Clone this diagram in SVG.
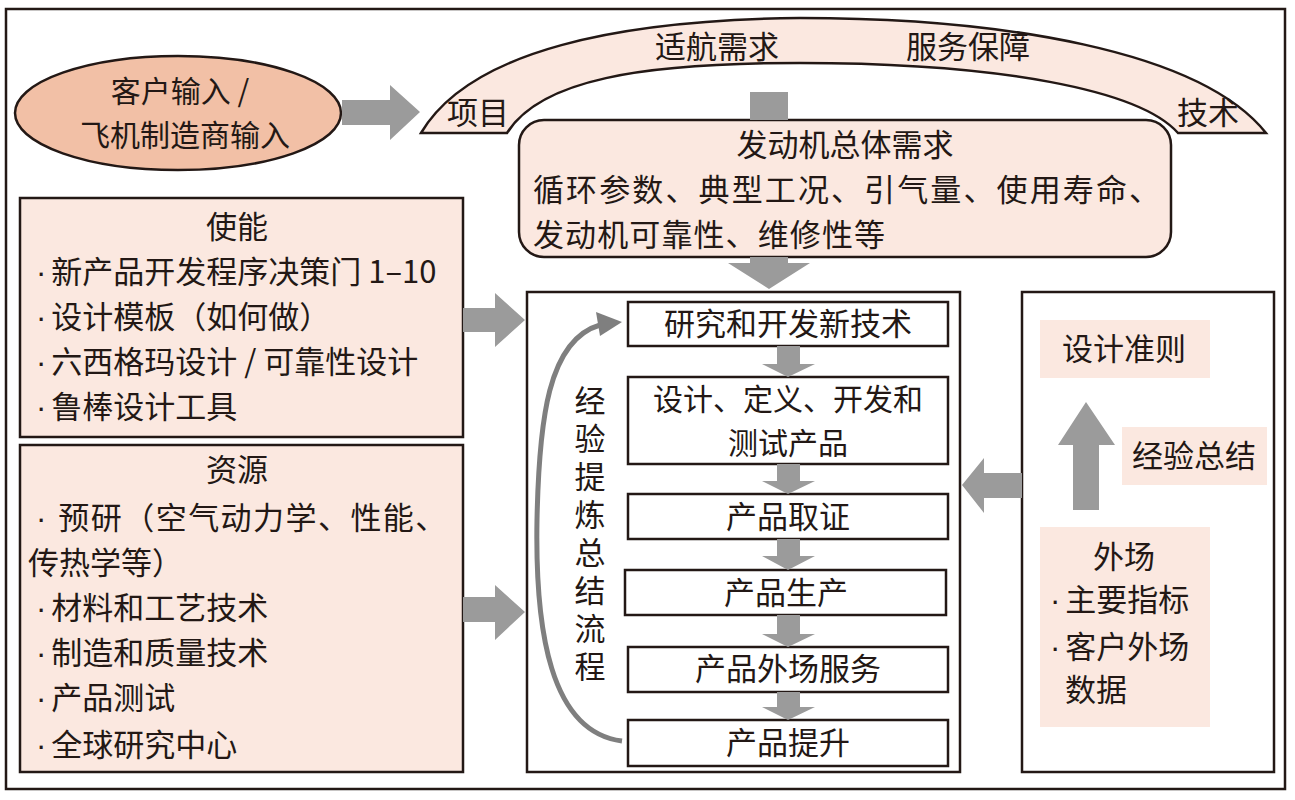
<svg xmlns="http://www.w3.org/2000/svg" width="1295" height="800" viewBox="0 0 1295 800">
<style>
text{font-family:"Noto Sans CJK SC","Noto Sans",sans-serif;font-size:31px;fill:#231815;}
.c{text-anchor:middle;}
.s{font-size:30px;}
.d{font-family:"Liberation Sans",sans-serif;}
.v{writing-mode:vertical-rl;letter-spacing:7px;}
.pink{fill:#fbe8e0;stroke:#231815;stroke-width:2.5;}
.pk{fill:#fbe8e0;}
.box{fill:#fff;stroke:#231815;stroke-width:2.5;}
.ga{fill:#9b9b9b;}
</style>
<rect x="0" y="0" width="1295" height="800" fill="#fff"/>
<rect x="6" y="9" width="1279" height="780" fill="none" stroke="#231815" stroke-width="2.5"/>

<g id="customer">
<ellipse cx="178" cy="113" rx="163" ry="57" fill="#f2c0a6" stroke="#231815" stroke-width="2.5"/>
<text class="c s"><tspan x="180" y="102">客户输入 /</tspan><tspan x="185" y="146">飞机制造商输入</tspan></text>
</g>

<g id="arc">
<path class="pink" d="M421,133 C470,50 620,20 800,18 C1000,18 1200,50 1266,133 L1178,133 C1140,90 1000,63 800,63 C640,63 540,80 507,133 Z"/>
<text class="c" x="717" y="58">适航需求</text>
<text class="c" x="968" y="58">服务保障</text>
<text class="c" x="478" y="124">项目</text>
<text class="c" x="1208" y="124">技术</text>
</g>

<g id="requirements">
<rect class="pink" x="519" y="120" width="652" height="137" rx="25"/>
<text class="c" x="845" y="156">发动机总体需求</text>
<text x="533" y="201" textLength="627" lengthAdjust="spacing">循环参数、典型工况、引气量、使用寿命、</text>
<text x="533" y="246" textLength="352" lengthAdjust="spacing">发动机可靠性、维修性等</text>
</g>

<g id="enable">
<rect class="pink" x="20" y="198" width="443" height="239"/>
<text class="c" x="237" y="238">使能</text>
<text x="36" y="283"><tspan class="d">·</tspan><tspan dx="5">新产品开发程序决策门 1–10</tspan></text>
<text x="36" y="328"><tspan class="d">·</tspan><tspan dx="5">设计模板（如何做）</tspan></text>
<text x="36" y="373"><tspan class="d">·</tspan><tspan dx="5">六西格玛设计 / 可靠性设计</tspan></text>
<text x="36" y="418"><tspan class="d">·</tspan><tspan dx="5">鲁棒设计工具</tspan></text>
</g>

<g id="resources">
<rect class="pink" x="20" y="445" width="443" height="327"/>
<text class="c" x="237" y="481">资源</text>
<text x="36" y="529"><tspan class="d">·</tspan><tspan dx="12" textLength="388" lengthAdjust="spacing">预研（空气动力学、性能、</tspan></text>
<text x="28" y="574">传热学等）</text>
<text x="36" y="619"><tspan class="d">·</tspan><tspan dx="5">材料和工艺技术</tspan></text>
<text x="36" y="664"><tspan class="d">·</tspan><tspan dx="5">制造和质量技术</tspan></text>
<text x="36" y="709"><tspan class="d">·</tspan><tspan dx="5">产品测试</tspan></text>
<text x="36" y="756"><tspan class="d">·</tspan><tspan dx="5">全球研究中心</tspan></text>
</g>

<g id="process">
<rect class="box" x="527" y="292" width="433" height="480"/>
<rect class="box" x="628" y="302" width="320" height="44"/>
<text class="c" x="788" y="335">研究和开发新技术</text>
<rect class="box" x="628" y="377" width="320" height="87"/>
<text class="c s"><tspan x="788" y="410">设计、定义、开发和</tspan><tspan x="788" y="454">测试产品</tspan></text>
<rect class="box" x="628" y="494" width="320" height="45"/>
<text class="c" x="788" y="528">产品取证</text>
<rect class="box" x="625" y="570" width="321" height="45"/>
<text class="c" x="786" y="604">产品生产</text>
<rect class="box" x="628" y="647" width="320" height="45"/>
<text class="c" x="788" y="680">产品外场服务</text>
<rect class="box" x="628" y="720" width="320" height="46"/>
<text class="c" x="788" y="754">产品提升</text>
<text class="v" x="590" y="385">经验提炼总结流程</text>
</g>

<g id="field">
<rect class="box" x="1022" y="292" width="252" height="480"/>
<rect class="pk" x="1040" y="320" width="170" height="58"/>
<text class="c" x="1124" y="360">设计准则</text>
<rect class="pk" x="1122" y="427" width="145" height="58"/>
<text class="c" x="1194" y="467">经验总结</text>
<rect class="pk" x="1040" y="527" width="170" height="200"/>
<text class="c" x="1124" y="568">外场</text>
<text x="1050" y="611"><tspan class="d">·</tspan><tspan dx="5">主要指标</tspan></text>
<text x="1050" y="658"><tspan class="d">·</tspan><tspan dx="5">客户外场</tspan></text>
<text x="1065" y="701">数据</text>
</g>

<g id="connectors">
<polygon class="ga" points="342,100 390,100 390,85 420,112 390,140 390,125 342,125"/>
<rect class="ga" x="750" y="92" width="38" height="28"/>
<polygon class="ga" points="750,257 788,257 788,263 810,263 769,289 728,263 750,263"/>
<polygon class="ga" points="463,308 495,308 495,293 525,320 495,347 495,332 463,332"/>
<polygon class="ga" points="463,597 495,597 495,585 525,612 495,640 495,622 463,622"/>
<polygon class="ga" points="777,346 800,346 800,364 815,364 788,377 762,364 777,364"/>
<polygon class="ga" points="777,464 800,464 800,481 815,481 788,494 762,481 777,481"/>
<polygon class="ga" points="777,539 800,539 800,556 815,556 788,570 762,556 777,556"/>
<polygon class="ga" points="777,615 800,615 800,634 815,634 788,647 762,634 777,634"/>
<polygon class="ga" points="777,692 800,692 800,707 815,707 788,720 762,707 777,707"/>
<polygon class="ga" points="1022,473 984,473 984,458 962,485 984,513 984,498 1022,498"/>
<polygon class="ga" points="1073,510 1073,445 1058,445 1086,402 1115,445 1099,445 1099,510"/>
<path d="M622,741 C550,732 535,630 537,520 C539,420 548,340 600,325" fill="none" stroke="#7f7f7f" stroke-width="5"/>
<polygon points="622,322 596,312 600,336" fill="#7f7f7f"/>
</g>
</svg>
